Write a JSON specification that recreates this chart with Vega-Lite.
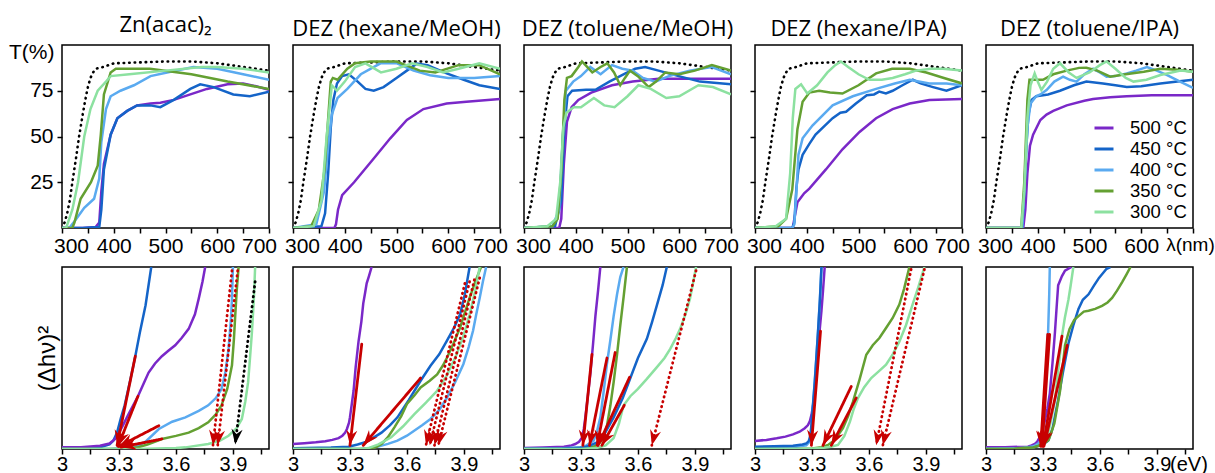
{
"$schema":"https://vega.github.io/schema/vega-lite/v6.json",
"padding":{"left":7,"top":13,"right":2,"bottom":0},
"datasets":{
"sub":[{"x":300,"y":0},{"x":305,"y":3},{"x":310,"y":8},{"x":315,"y":15},{"x":320,"y":25},{"x":327,"y":38},{"x":333,"y":50},{"x":340,"y":62},{"x":345,"y":70},{"x":350,"y":77},{"x":355,"y":82},{"x":360,"y":85},{"x":365,"y":87},{"x":380,"y":88},{"x":400,"y":90},{"x":450,"y":90.5},{"x":500,"y":91},{"x":550,"y":91},{"x":600,"y":90},{"x":650,"y":88},{"x":700,"y":86}],
"T":[
{"p":"a","s":500,"x":300,"y":0},{"p":"a","s":500,"x":340,"y":0},{"p":"a","s":500,"x":365,"y":0.5},{"p":"a","s":500,"x":372,"y":3},{"p":"a","s":500,"x":376,"y":20},{"p":"a","s":500,"x":381,"y":35},{"p":"a","s":500,"x":394,"y":51},{"p":"a","s":500,"x":407,"y":60},{"p":"a","s":500,"x":426,"y":64},{"p":"a","s":500,"x":445,"y":67},{"p":"a","s":500,"x":471,"y":68},{"p":"a","s":500,"x":490,"y":68.5},{"p":"a","s":500,"x":516,"y":70},{"p":"a","s":500,"x":548,"y":73},{"p":"a","s":500,"x":580,"y":76},{"p":"a","s":500,"x":620,"y":78.5},{"p":"a","s":500,"x":650,"y":79},{"p":"a","s":500,"x":675,"y":77.5},{"p":"a","s":500,"x":700,"y":75.5},
{"p":"a","s":450,"x":300,"y":0},{"p":"a","s":450,"x":340,"y":0},{"p":"a","s":450,"x":372,"y":0.5},{"p":"a","s":450,"x":376,"y":10},{"p":"a","s":450,"x":381,"y":32},{"p":"a","s":450,"x":394,"y":51},{"p":"a","s":450,"x":407,"y":60},{"p":"a","s":450,"x":426,"y":64},{"p":"a","s":450,"x":445,"y":67},{"p":"a","s":450,"x":471,"y":67},{"p":"a","s":450,"x":490,"y":66},{"p":"a","s":450,"x":516,"y":70},{"p":"a","s":450,"x":548,"y":76},{"p":"a","s":450,"x":567,"y":78.5},{"p":"a","s":450,"x":593,"y":77},{"p":"a","s":450,"x":631,"y":73},{"p":"a","s":450,"x":663,"y":72},{"p":"a","s":450,"x":700,"y":74.5},
{"p":"a","s":400,"x":300,"y":0},{"p":"a","s":400,"x":314,"y":0},{"p":"a","s":400,"x":325,"y":4},{"p":"a","s":400,"x":343,"y":11},{"p":"a","s":400,"x":362,"y":16},{"p":"a","s":400,"x":372,"y":27},{"p":"a","s":400,"x":376,"y":47},{"p":"a","s":400,"x":385,"y":65},{"p":"a","s":400,"x":394,"y":72},{"p":"a","s":400,"x":413,"y":75},{"p":"a","s":400,"x":439,"y":78},{"p":"a","s":400,"x":471,"y":83},{"p":"a","s":400,"x":503,"y":85},{"p":"a","s":400,"x":554,"y":88},{"p":"a","s":400,"x":600,"y":87},{"p":"a","s":400,"x":650,"y":84},{"p":"a","s":400,"x":700,"y":81},
{"p":"a","s":350,"x":300,"y":0},{"p":"a","s":350,"x":320,"y":0},{"p":"a","s":350,"x":324,"y":3},{"p":"a","s":350,"x":336,"y":16},{"p":"a","s":350,"x":356,"y":25},{"p":"a","s":350,"x":369,"y":34},{"p":"a","s":350,"x":375,"y":51},{"p":"a","s":350,"x":381,"y":73},{"p":"a","s":350,"x":394,"y":85},{"p":"a","s":350,"x":404,"y":87},{"p":"a","s":350,"x":470,"y":87},{"p":"a","s":350,"x":550,"y":84},{"p":"a","s":350,"x":620,"y":80},{"p":"a","s":350,"x":700,"y":76},
{"p":"a","s":300,"x":300,"y":0},{"p":"a","s":300,"x":308,"y":0},{"p":"a","s":300,"x":320,"y":10},{"p":"a","s":300,"x":331,"y":25},{"p":"a","s":300,"x":343,"y":50},{"p":"a","s":300,"x":355,"y":65},{"p":"a","s":300,"x":369,"y":75},{"p":"a","s":300,"x":385,"y":80},{"p":"a","s":300,"x":394,"y":83},{"p":"a","s":300,"x":430,"y":84},{"p":"a","s":300,"x":500,"y":86},{"p":"a","s":300,"x":570,"y":88},{"p":"a","s":300,"x":600,"y":88},{"p":"a","s":300,"x":650,"y":87},{"p":"a","s":300,"x":700,"y":85},
{"p":"b","s":500,"x":300,"y":0},{"p":"b","s":500,"x":380,"y":0},{"p":"b","s":500,"x":383,"y":2},{"p":"b","s":500,"x":387,"y":10},{"p":"b","s":500,"x":395,"y":18},{"p":"b","s":500,"x":418,"y":25},{"p":"b","s":500,"x":456,"y":38},{"p":"b","s":500,"x":488,"y":49},{"p":"b","s":500,"x":520,"y":59},{"p":"b","s":500,"x":552,"y":65},{"p":"b","s":500,"x":597,"y":68},{"p":"b","s":500,"x":635,"y":69},{"p":"b","s":500,"x":700,"y":70.5},
{"p":"b","s":450,"x":300,"y":0},{"p":"b","s":450,"x":355,"y":1},{"p":"b","s":450,"x":362,"y":8},{"p":"b","s":450,"x":368,"y":30},{"p":"b","s":450,"x":373,"y":55},{"p":"b","s":450,"x":378,"y":70},{"p":"b","s":450,"x":385,"y":79},{"p":"b","s":450,"x":395,"y":83},{"p":"b","s":450,"x":408,"y":84},{"p":"b","s":450,"x":425,"y":80},{"p":"b","s":450,"x":440,"y":76},{"p":"b","s":450,"x":456,"y":75},{"p":"b","s":450,"x":475,"y":77},{"p":"b","s":450,"x":500,"y":82},{"p":"b","s":450,"x":520,"y":86},{"p":"b","s":450,"x":539,"y":89.8},{"p":"b","s":450,"x":560,"y":89},{"p":"b","s":450,"x":580,"y":86.5},{"p":"b","s":450,"x":597,"y":84.5},{"p":"b","s":450,"x":630,"y":81},{"p":"b","s":450,"x":660,"y":78},{"p":"b","s":450,"x":700,"y":76},
{"p":"b","s":400,"x":300,"y":0},{"p":"b","s":400,"x":345,"y":2},{"p":"b","s":400,"x":360,"y":20},{"p":"b","s":400,"x":368,"y":45},{"p":"b","s":400,"x":375,"y":62},{"p":"b","s":400,"x":386,"y":71},{"p":"b","s":400,"x":405,"y":76},{"p":"b","s":400,"x":431,"y":84},{"p":"b","s":400,"x":469,"y":90},{"p":"b","s":400,"x":501,"y":90},{"p":"b","s":400,"x":533,"y":86},{"p":"b","s":400,"x":565,"y":83.5},{"p":"b","s":400,"x":600,"y":82},{"p":"b","s":400,"x":650,"y":82},{"p":"b","s":400,"x":700,"y":83},
{"p":"b","s":350,"x":300,"y":0},{"p":"b","s":350,"x":335,"y":1},{"p":"b","s":350,"x":350,"y":10},{"p":"b","s":350,"x":361,"y":32},{"p":"b","s":350,"x":368,"y":60},{"p":"b","s":350,"x":373,"y":80},{"p":"b","s":350,"x":377,"y":82},{"p":"b","s":350,"x":386,"y":81},{"p":"b","s":350,"x":405,"y":87},{"p":"b","s":350,"x":420,"y":90},{"p":"b","s":350,"x":450,"y":91},{"p":"b","s":350,"x":500,"y":91},{"p":"b","s":350,"x":545,"y":86},{"p":"b","s":350,"x":575,"y":85},{"p":"b","s":350,"x":620,"y":89},{"p":"b","s":350,"x":660,"y":89},{"p":"b","s":350,"x":700,"y":84},
{"p":"b","s":300,"x":300,"y":0},{"p":"b","s":300,"x":340,"y":1},{"p":"b","s":300,"x":355,"y":15},{"p":"b","s":300,"x":365,"y":50},{"p":"b","s":300,"x":375,"y":78},{"p":"b","s":300,"x":385,"y":75},{"p":"b","s":300,"x":400,"y":80},{"p":"b","s":300,"x":420,"y":88},{"p":"b","s":300,"x":440,"y":90},{"p":"b","s":300,"x":470,"y":85},{"p":"b","s":300,"x":500,"y":87},{"p":"b","s":300,"x":530,"y":90},{"p":"b","s":300,"x":560,"y":88},{"p":"b","s":300,"x":590,"y":85},{"p":"b","s":300,"x":620,"y":87},{"p":"b","s":300,"x":660,"y":90},{"p":"b","s":300,"x":700,"y":87},
{"p":"c","s":500,"x":300,"y":0},{"p":"c","s":500,"x":368,"y":0},{"p":"c","s":500,"x":372,"y":5},{"p":"c","s":500,"x":377,"y":35},{"p":"c","s":500,"x":383,"y":58},{"p":"c","s":500,"x":392,"y":66},{"p":"c","s":500,"x":405,"y":70},{"p":"c","s":500,"x":430,"y":74},{"p":"c","s":500,"x":470,"y":78},{"p":"c","s":500,"x":510,"y":80},{"p":"c","s":500,"x":560,"y":81.5},{"p":"c","s":500,"x":620,"y":81.5},{"p":"c","s":500,"x":700,"y":81.5},
{"p":"c","s":450,"x":300,"y":0},{"p":"c","s":450,"x":360,"y":1},{"p":"c","s":450,"x":372,"y":15},{"p":"c","s":450,"x":378,"y":55},{"p":"c","s":450,"x":384,"y":72},{"p":"c","s":450,"x":393,"y":75},{"p":"c","s":450,"x":420,"y":75.5},{"p":"c","s":450,"x":438,"y":75.5},{"p":"c","s":450,"x":465,"y":80},{"p":"c","s":450,"x":496,"y":84.5},{"p":"c","s":450,"x":515,"y":87},{"p":"c","s":450,"x":534,"y":88},{"p":"c","s":450,"x":560,"y":86},{"p":"c","s":450,"x":599,"y":83},{"p":"c","s":450,"x":640,"y":80},{"p":"c","s":450,"x":700,"y":78.5},
{"p":"c","s":400,"x":300,"y":0},{"p":"c","s":400,"x":355,"y":1},{"p":"c","s":400,"x":368,"y":10},{"p":"c","s":400,"x":375,"y":50},{"p":"c","s":400,"x":381,"y":75},{"p":"c","s":400,"x":395,"y":80},{"p":"c","s":400,"x":410,"y":83},{"p":"c","s":400,"x":428,"y":88},{"p":"c","s":400,"x":448,"y":84},{"p":"c","s":400,"x":470,"y":89},{"p":"c","s":400,"x":490,"y":87},{"p":"c","s":400,"x":510,"y":86},{"p":"c","s":400,"x":530,"y":82},{"p":"c","s":400,"x":554,"y":80},{"p":"c","s":400,"x":580,"y":83},{"p":"c","s":400,"x":620,"y":86},{"p":"c","s":400,"x":663,"y":88},{"p":"c","s":400,"x":700,"y":84},
{"p":"c","s":350,"x":300,"y":0},{"p":"c","s":350,"x":355,"y":1},{"p":"c","s":350,"x":365,"y":5},{"p":"c","s":350,"x":372,"y":30},{"p":"c","s":350,"x":378,"y":70},{"p":"c","s":350,"x":383,"y":82},{"p":"c","s":350,"x":392,"y":83},{"p":"c","s":350,"x":405,"y":88},{"p":"c","s":350,"x":412,"y":91},{"p":"c","s":350,"x":422,"y":88},{"p":"c","s":350,"x":432,"y":85},{"p":"c","s":350,"x":448,"y":88},{"p":"c","s":350,"x":461,"y":90},{"p":"c","s":350,"x":474,"y":85},{"p":"c","s":350,"x":486,"y":78},{"p":"c","s":350,"x":495,"y":82},{"p":"c","s":350,"x":505,"y":86},{"p":"c","s":350,"x":520,"y":83},{"p":"c","s":350,"x":541,"y":77},{"p":"c","s":350,"x":555,"y":80},{"p":"c","s":350,"x":573,"y":85},{"p":"c","s":350,"x":600,"y":84},{"p":"c","s":350,"x":630,"y":86},{"p":"c","s":350,"x":663,"y":89},{"p":"c","s":350,"x":700,"y":86},
{"p":"c","s":300,"x":300,"y":0},{"p":"c","s":300,"x":345,"y":1},{"p":"c","s":300,"x":362,"y":5},{"p":"c","s":300,"x":370,"y":25},{"p":"c","s":300,"x":376,"y":55},{"p":"c","s":300,"x":382,"y":63},{"p":"c","s":300,"x":396,"y":66},{"p":"c","s":300,"x":410,"y":66},{"p":"c","s":300,"x":435,"y":71},{"p":"c","s":300,"x":455,"y":67},{"p":"c","s":300,"x":475,"y":66},{"p":"c","s":300,"x":500,"y":72},{"p":"c","s":300,"x":521,"y":78},{"p":"c","s":300,"x":545,"y":76},{"p":"c","s":300,"x":575,"y":71},{"p":"c","s":300,"x":600,"y":72},{"p":"c","s":300,"x":637,"y":78},{"p":"c","s":300,"x":665,"y":77},{"p":"c","s":300,"x":700,"y":73},
{"p":"d","s":500,"x":300,"y":0},{"p":"d","s":500,"x":373,"y":0},{"p":"d","s":500,"x":376,"y":5},{"p":"d","s":500,"x":382,"y":14},{"p":"d","s":500,"x":395,"y":19},{"p":"d","s":500,"x":405,"y":21.5},{"p":"d","s":500,"x":437,"y":32},{"p":"d","s":500,"x":469,"y":43},{"p":"d","s":500,"x":502,"y":52.5},{"p":"d","s":500,"x":534,"y":60},{"p":"d","s":500,"x":566,"y":65},{"p":"d","s":500,"x":599,"y":68},{"p":"d","s":500,"x":637,"y":70},{"p":"d","s":500,"x":700,"y":70.5},
{"p":"d","s":450,"x":300,"y":0},{"p":"d","s":450,"x":372,"y":0},{"p":"d","s":450,"x":376,"y":3},{"p":"d","s":450,"x":380,"y":22},{"p":"d","s":450,"x":384,"y":32},{"p":"d","s":450,"x":392,"y":40},{"p":"d","s":450,"x":405,"y":46},{"p":"d","s":450,"x":417,"y":51},{"p":"d","s":450,"x":435,"y":56},{"p":"d","s":450,"x":450,"y":60},{"p":"d","s":450,"x":465,"y":63},{"p":"d","s":450,"x":476,"y":63.5},{"p":"d","s":450,"x":495,"y":68},{"p":"d","s":450,"x":516,"y":72.6},{"p":"d","s":450,"x":530,"y":73},{"p":"d","s":450,"x":540,"y":74.5},{"p":"d","s":450,"x":553,"y":73.5},{"p":"d","s":450,"x":566,"y":75},{"p":"d","s":450,"x":585,"y":78},{"p":"d","s":450,"x":605,"y":81},{"p":"d","s":450,"x":620,"y":79},{"p":"d","s":450,"x":644,"y":77},{"p":"d","s":450,"x":670,"y":75},{"p":"d","s":450,"x":700,"y":78},
{"p":"d","s":400,"x":300,"y":0},{"p":"d","s":400,"x":372,"y":0},{"p":"d","s":400,"x":376,"y":2},{"p":"d","s":400,"x":380,"y":20},{"p":"d","s":400,"x":384,"y":40},{"p":"d","s":400,"x":392,"y":49},{"p":"d","s":400,"x":411,"y":56},{"p":"d","s":400,"x":450,"y":67},{"p":"d","s":400,"x":489,"y":72},{"p":"d","s":400,"x":534,"y":76},{"p":"d","s":400,"x":570,"y":79},{"p":"d","s":400,"x":599,"y":81},{"p":"d","s":400,"x":637,"y":79},{"p":"d","s":400,"x":670,"y":79},{"p":"d","s":400,"x":700,"y":78},
{"p":"d","s":350,"x":300,"y":0},{"p":"d","s":350,"x":345,"y":1},{"p":"d","s":350,"x":360,"y":5},{"p":"d","s":350,"x":372,"y":21},{"p":"d","s":350,"x":382,"y":54},{"p":"d","s":350,"x":392,"y":69},{"p":"d","s":350,"x":405,"y":74},{"p":"d","s":350,"x":424,"y":75},{"p":"d","s":350,"x":445,"y":74},{"p":"d","s":350,"x":469,"y":73.5},{"p":"d","s":350,"x":500,"y":78},{"p":"d","s":350,"x":534,"y":84.5},{"p":"d","s":350,"x":565,"y":87},{"p":"d","s":350,"x":599,"y":87},{"p":"d","s":350,"x":631,"y":85},{"p":"d","s":350,"x":665,"y":82},{"p":"d","s":350,"x":700,"y":79},
{"p":"d","s":300,"x":300,"y":0},{"p":"d","s":300,"x":340,"y":1},{"p":"d","s":300,"x":360,"y":5},{"p":"d","s":300,"x":368,"y":30},{"p":"d","s":300,"x":373,"y":60},{"p":"d","s":300,"x":378,"y":76},{"p":"d","s":300,"x":389,"y":78.5},{"p":"d","s":300,"x":401,"y":73.5},{"p":"d","s":300,"x":420,"y":78},{"p":"d","s":300,"x":440,"y":85},{"p":"d","s":300,"x":455,"y":89},{"p":"d","s":300,"x":466,"y":91},{"p":"d","s":300,"x":480,"y":88},{"p":"d","s":300,"x":500,"y":84},{"p":"d","s":300,"x":521,"y":81},{"p":"d","s":300,"x":545,"y":81},{"p":"d","s":300,"x":566,"y":82},{"p":"d","s":300,"x":590,"y":84},{"p":"d","s":300,"x":611,"y":86},{"p":"d","s":300,"x":640,"y":87},{"p":"d","s":300,"x":663,"y":87},{"p":"d","s":300,"x":700,"y":86},
{"p":"e","s":500,"x":300,"y":0},{"p":"e","s":500,"x":372,"y":0},{"p":"e","s":500,"x":376,"y":10},{"p":"e","s":500,"x":380,"y":30},{"p":"e","s":500,"x":385,"y":45},{"p":"e","s":500,"x":391,"y":51},{"p":"e","s":500,"x":405,"y":59},{"p":"e","s":500,"x":417,"y":62},{"p":"e","s":500,"x":430,"y":64},{"p":"e","s":500,"x":456,"y":67},{"p":"e","s":500,"x":490,"y":69.5},{"p":"e","s":500,"x":507,"y":70.5},{"p":"e","s":500,"x":540,"y":71.5},{"p":"e","s":500,"x":572,"y":72},{"p":"e","s":500,"x":620,"y":72.5},{"p":"e","s":500,"x":660,"y":72.5},{"p":"e","s":500,"x":700,"y":72.5},
{"p":"e","s":450,"x":300,"y":0},{"p":"e","s":450,"x":370,"y":0},{"p":"e","s":450,"x":374,"y":20},{"p":"e","s":450,"x":378,"y":45},{"p":"e","s":450,"x":382,"y":62},{"p":"e","s":450,"x":388,"y":70},{"p":"e","s":450,"x":397,"y":72},{"p":"e","s":450,"x":420,"y":73},{"p":"e","s":450,"x":443,"y":75},{"p":"e","s":450,"x":470,"y":78},{"p":"e","s":450,"x":494,"y":80},{"p":"e","s":450,"x":526,"y":79},{"p":"e","s":450,"x":550,"y":78},{"p":"e","s":450,"x":572,"y":77},{"p":"e","s":450,"x":600,"y":77.5},{"p":"e","s":450,"x":637,"y":79},{"p":"e","s":450,"x":670,"y":80},{"p":"e","s":450,"x":700,"y":81},
{"p":"e","s":400,"x":300,"y":0},{"p":"e","s":400,"x":370,"y":0},{"p":"e","s":400,"x":375,"y":25},{"p":"e","s":400,"x":380,"y":55},{"p":"e","s":400,"x":386,"y":68},{"p":"e","s":400,"x":397,"y":72},{"p":"e","s":400,"x":405,"y":73},{"p":"e","s":400,"x":417,"y":75.4},{"p":"e","s":400,"x":432,"y":80},{"p":"e","s":400,"x":449,"y":82.7},{"p":"e","s":400,"x":462,"y":81},{"p":"e","s":400,"x":475,"y":80},{"p":"e","s":400,"x":490,"y":84},{"p":"e","s":400,"x":507,"y":87},{"p":"e","s":400,"x":520,"y":85},{"p":"e","s":400,"x":533,"y":82.7},{"p":"e","s":400,"x":550,"y":83},{"p":"e","s":400,"x":572,"y":84.5},{"p":"e","s":400,"x":590,"y":86},{"p":"e","s":400,"x":611,"y":88},{"p":"e","s":400,"x":630,"y":86},{"p":"e","s":400,"x":650,"y":83.6},{"p":"e","s":400,"x":675,"y":80},{"p":"e","s":400,"x":700,"y":76.6},
{"p":"e","s":350,"x":300,"y":0},{"p":"e","s":350,"x":368,"y":0},{"p":"e","s":350,"x":374,"y":25},{"p":"e","s":350,"x":380,"y":70},{"p":"e","s":350,"x":384,"y":81},{"p":"e","s":350,"x":395,"y":81},{"p":"e","s":350,"x":410,"y":81},{"p":"e","s":350,"x":430,"y":84},{"p":"e","s":350,"x":456,"y":86},{"p":"e","s":350,"x":480,"y":87.5},{"p":"e","s":350,"x":494,"y":87.6},{"p":"e","s":350,"x":515,"y":86},{"p":"e","s":350,"x":540,"y":82.7},{"p":"e","s":350,"x":570,"y":84},{"p":"e","s":350,"x":605,"y":85.4},{"p":"e","s":350,"x":637,"y":87},{"p":"e","s":350,"x":670,"y":86.5},{"p":"e","s":350,"x":700,"y":85.4},
{"p":"e","s":300,"x":300,"y":0},{"p":"e","s":300,"x":368,"y":0},{"p":"e","s":300,"x":374,"y":20},{"p":"e","s":300,"x":380,"y":60},{"p":"e","s":300,"x":386,"y":78},{"p":"e","s":300,"x":394,"y":84.5},{"p":"e","s":300,"x":400,"y":80},{"p":"e","s":300,"x":407,"y":75.4},{"p":"e","s":300,"x":418,"y":80},{"p":"e","s":300,"x":430,"y":87},{"p":"e","s":300,"x":443,"y":90},{"p":"e","s":300,"x":460,"y":85},{"p":"e","s":300,"x":475,"y":82},{"p":"e","s":300,"x":500,"y":85},{"p":"e","s":300,"x":520,"y":89},{"p":"e","s":300,"x":533,"y":91},{"p":"e","s":300,"x":550,"y":87},{"p":"e","s":300,"x":570,"y":82},{"p":"e","s":300,"x":585,"y":80},{"p":"e","s":300,"x":610,"y":81},{"p":"e","s":300,"x":637,"y":83.6},{"p":"e","s":300,"x":676,"y":86},{"p":"e","s":300,"x":700,"y":85.4}
],
"tauc":[
{"p":"f","s":450,"x":3.0,"y":0.3},{"p":"f","s":450,"x":3.15,"y":0.5},{"p":"f","s":450,"x":3.2,"y":1},{"p":"f","s":450,"x":3.25,"y":2.5},{"p":"f","s":450,"x":3.27,"y":4.5},{"p":"f","s":450,"x":3.29,"y":9},{"p":"f","s":450,"x":3.31,"y":17},{"p":"f","s":450,"x":3.33,"y":24},{"p":"f","s":450,"x":3.36,"y":38},{"p":"f","s":450,"x":3.386,"y":51},{"p":"f","s":450,"x":3.41,"y":64},{"p":"f","s":450,"x":3.44,"y":79},{"p":"f","s":450,"x":3.47,"y":100},
{"p":"f","s":500,"x":3.0,"y":0.9},{"p":"f","s":500,"x":3.1,"y":1},{"p":"f","s":500,"x":3.2,"y":1.8},{"p":"f","s":500,"x":3.25,"y":3},{"p":"f","s":500,"x":3.28,"y":5.5},{"p":"f","s":500,"x":3.3,"y":9},{"p":"f","s":500,"x":3.316,"y":12},{"p":"f","s":500,"x":3.35,"y":19},{"p":"f","s":500,"x":3.4,"y":29},{"p":"f","s":500,"x":3.43,"y":36},{"p":"f","s":500,"x":3.456,"y":42},{"p":"f","s":500,"x":3.49,"y":47},{"p":"f","s":500,"x":3.526,"y":51},{"p":"f","s":500,"x":3.56,"y":54},{"p":"f","s":500,"x":3.596,"y":57},{"p":"f","s":500,"x":3.63,"y":61},{"p":"f","s":500,"x":3.667,"y":66},{"p":"f","s":500,"x":3.7,"y":74},{"p":"f","s":500,"x":3.72,"y":82.6},{"p":"f","s":500,"x":3.74,"y":92},{"p":"f","s":500,"x":3.754,"y":100},
{"p":"f","s":400,"x":3.0,"y":0},{"p":"f","s":400,"x":3.25,"y":0},{"p":"f","s":400,"x":3.3,"y":0.3},{"p":"f","s":400,"x":3.386,"y":1},{"p":"f","s":400,"x":3.44,"y":4},{"p":"f","s":400,"x":3.51,"y":11},{"p":"f","s":400,"x":3.58,"y":15},{"p":"f","s":400,"x":3.65,"y":17.4},{"p":"f","s":400,"x":3.72,"y":21},{"p":"f","s":400,"x":3.77,"y":24},{"p":"f","s":400,"x":3.81,"y":28},{"p":"f","s":400,"x":3.84,"y":33},{"p":"f","s":400,"x":3.86,"y":42},{"p":"f","s":400,"x":3.877,"y":55},{"p":"f","s":400,"x":3.89,"y":72},{"p":"f","s":400,"x":3.895,"y":82.6},{"p":"f","s":400,"x":3.9,"y":100},
{"p":"f","s":350,"x":3.0,"y":0},{"p":"f","s":350,"x":3.3,"y":0},{"p":"f","s":350,"x":3.4,"y":1},{"p":"f","s":350,"x":3.45,"y":2.5},{"p":"f","s":350,"x":3.526,"y":5.5},{"p":"f","s":350,"x":3.6,"y":7.2},{"p":"f","s":350,"x":3.667,"y":9},{"p":"f","s":350,"x":3.72,"y":11.5},{"p":"f","s":350,"x":3.77,"y":14.7},{"p":"f","s":350,"x":3.81,"y":19},{"p":"f","s":350,"x":3.84,"y":24},{"p":"f","s":350,"x":3.87,"y":33},{"p":"f","s":350,"x":3.895,"y":46},{"p":"f","s":350,"x":3.905,"y":60},{"p":"f","s":350,"x":3.912,"y":73},{"p":"f","s":350,"x":3.92,"y":87},{"p":"f","s":350,"x":3.93,"y":100},
{"p":"f","s":300,"x":3.0,"y":0},{"p":"f","s":300,"x":3.4,"y":0},{"p":"f","s":300,"x":3.6,"y":0.5},{"p":"f","s":300,"x":3.65,"y":0.9},{"p":"f","s":300,"x":3.77,"y":2.75},{"p":"f","s":300,"x":3.83,"y":4.5},{"p":"f","s":300,"x":3.877,"y":7.3},{"p":"f","s":300,"x":3.92,"y":11.5},{"p":"f","s":300,"x":3.947,"y":16.5},{"p":"f","s":300,"x":3.965,"y":26},{"p":"f","s":300,"x":3.98,"y":36.7},{"p":"f","s":300,"x":3.99,"y":50},{"p":"f","s":300,"x":4.0,"y":64},{"p":"f","s":300,"x":4.01,"y":82},{"p":"f","s":300,"x":4.017,"y":100},
{"p":"g","s":500,"x":3.0,"y":2.7},{"p":"g","s":500,"x":3.06,"y":3.2},{"p":"g","s":500,"x":3.12,"y":3.7},{"p":"g","s":500,"x":3.17,"y":4.3},{"p":"g","s":500,"x":3.207,"y":5},{"p":"g","s":500,"x":3.24,"y":6},{"p":"g","s":500,"x":3.26,"y":7.3},{"p":"g","s":500,"x":3.275,"y":9},{"p":"g","s":500,"x":3.284,"y":11},{"p":"g","s":500,"x":3.295,"y":14.5},{"p":"g","s":500,"x":3.3,"y":17.5},{"p":"g","s":500,"x":3.31,"y":25},{"p":"g","s":500,"x":3.319,"y":32},{"p":"g","s":500,"x":3.33,"y":45},{"p":"g","s":500,"x":3.345,"y":59},{"p":"g","s":500,"x":3.36,"y":70},{"p":"g","s":500,"x":3.37,"y":80},{"p":"g","s":500,"x":3.38,"y":86},{"p":"g","s":500,"x":3.388,"y":91},{"p":"g","s":500,"x":3.4,"y":95},{"p":"g","s":500,"x":3.414,"y":100},
{"p":"g","s":450,"x":3.0,"y":0.4},{"p":"g","s":450,"x":3.2,"y":0.8},{"p":"g","s":450,"x":3.293,"y":1.3},{"p":"g","s":450,"x":3.34,"y":2.5},{"p":"g","s":450,"x":3.38,"y":3.7},{"p":"g","s":450,"x":3.42,"y":6},{"p":"g","s":450,"x":3.466,"y":9},{"p":"g","s":450,"x":3.51,"y":13},{"p":"g","s":450,"x":3.55,"y":17.4},{"p":"g","s":450,"x":3.61,"y":27},{"p":"g","s":450,"x":3.672,"y":37.5},{"p":"g","s":450,"x":3.724,"y":45.7},{"p":"g","s":450,"x":3.77,"y":52},{"p":"g","s":450,"x":3.81,"y":59.4},{"p":"g","s":450,"x":3.85,"y":67},{"p":"g","s":450,"x":3.88,"y":74},{"p":"g","s":450,"x":3.905,"y":85},{"p":"g","s":450,"x":3.93,"y":100},
{"p":"g","s":400,"x":3.0,"y":0},{"p":"g","s":400,"x":3.35,"y":0},{"p":"g","s":400,"x":3.4,"y":0.4},{"p":"g","s":400,"x":3.448,"y":1.3},{"p":"g","s":400,"x":3.5,"y":2.8},{"p":"g","s":400,"x":3.55,"y":4.6},{"p":"g","s":400,"x":3.6,"y":7.3},{"p":"g","s":400,"x":3.638,"y":10},{"p":"g","s":400,"x":3.68,"y":13},{"p":"g","s":400,"x":3.724,"y":16.5},{"p":"g","s":400,"x":3.77,"y":21.5},{"p":"g","s":400,"x":3.81,"y":28},{"p":"g","s":400,"x":3.855,"y":37},{"p":"g","s":400,"x":3.897,"y":46.6},{"p":"g","s":400,"x":3.925,"y":56},{"p":"g","s":400,"x":3.948,"y":65},{"p":"g","s":400,"x":3.965,"y":74},{"p":"g","s":400,"x":3.983,"y":83},{"p":"g","s":400,"x":4.0,"y":92},{"p":"g","s":400,"x":4.017,"y":100},
{"p":"g","s":350,"x":3.0,"y":0},{"p":"g","s":350,"x":3.38,"y":0},{"p":"g","s":350,"x":3.414,"y":0.3},{"p":"g","s":350,"x":3.44,"y":1.2},{"p":"g","s":350,"x":3.466,"y":2.7},{"p":"g","s":350,"x":3.5,"y":6.5},{"p":"g","s":350,"x":3.534,"y":11.9},{"p":"g","s":350,"x":3.57,"y":18},{"p":"g","s":350,"x":3.6,"y":24.7},{"p":"g","s":350,"x":3.64,"y":29.5},{"p":"g","s":350,"x":3.672,"y":33.8},{"p":"g","s":350,"x":3.72,"y":37.5},{"p":"g","s":350,"x":3.759,"y":41},{"p":"g","s":350,"x":3.79,"y":46},{"p":"g","s":350,"x":3.81,"y":50},{"p":"g","s":350,"x":3.845,"y":58},{"p":"g","s":350,"x":3.88,"y":66.7},{"p":"g","s":350,"x":3.905,"y":75},{"p":"g","s":350,"x":3.93,"y":83},{"p":"g","s":350,"x":3.96,"y":92},{"p":"g","s":350,"x":3.99,"y":100},
{"p":"g","s":300,"x":3.0,"y":0},{"p":"g","s":300,"x":3.36,"y":0},{"p":"g","s":300,"x":3.397,"y":0.5},{"p":"g","s":300,"x":3.45,"y":2.5},{"p":"g","s":300,"x":3.517,"y":6.4},{"p":"g","s":300,"x":3.58,"y":12.5},{"p":"g","s":300,"x":3.638,"y":19},{"p":"g","s":300,"x":3.7,"y":25.5},{"p":"g","s":300,"x":3.759,"y":32},{"p":"g","s":300,"x":3.81,"y":40.5},{"p":"g","s":300,"x":3.862,"y":52},{"p":"g","s":300,"x":3.9,"y":63},{"p":"g","s":300,"x":3.93,"y":74},{"p":"g","s":300,"x":3.96,"y":87},{"p":"g","s":300,"x":3.983,"y":100},
{"p":"h","s":500,"x":3.0,"y":0.5},{"p":"h","s":500,"x":3.1,"y":0.8},{"p":"h","s":500,"x":3.21,"y":1.3},{"p":"h","s":500,"x":3.25,"y":2},{"p":"h","s":500,"x":3.27,"y":2.75},{"p":"h","s":500,"x":3.29,"y":4},{"p":"h","s":500,"x":3.306,"y":6.4},{"p":"h","s":500,"x":3.315,"y":11},{"p":"h","s":500,"x":3.323,"y":17.4},{"p":"h","s":500,"x":3.335,"y":28},{"p":"h","s":500,"x":3.35,"y":42},{"p":"h","s":500,"x":3.363,"y":57},{"p":"h","s":500,"x":3.376,"y":73},{"p":"h","s":500,"x":3.39,"y":87},{"p":"h","s":500,"x":3.402,"y":100},
{"p":"h","s":400,"x":3.0,"y":0.2},{"p":"h","s":400,"x":3.2,"y":0.4},{"p":"h","s":400,"x":3.297,"y":0.8},{"p":"h","s":400,"x":3.33,"y":2},{"p":"h","s":400,"x":3.367,"y":4.6},{"p":"h","s":400,"x":3.385,"y":10},{"p":"h","s":400,"x":3.402,"y":17.4},{"p":"h","s":400,"x":3.42,"y":32},{"p":"h","s":400,"x":3.437,"y":47},{"p":"h","s":400,"x":3.455,"y":60},{"p":"h","s":400,"x":3.472,"y":73},{"p":"h","s":400,"x":3.49,"y":85},{"p":"h","s":400,"x":3.507,"y":94.5},{"p":"h","s":400,"x":3.524,"y":100},
{"p":"h","s":350,"x":3.0,"y":0},{"p":"h","s":350,"x":3.2,"y":0},{"p":"h","s":350,"x":3.33,"y":0.5},{"p":"h","s":350,"x":3.37,"y":1.5},{"p":"h","s":350,"x":3.402,"y":3.7},{"p":"h","s":350,"x":3.42,"y":7},{"p":"h","s":350,"x":3.437,"y":12.8},{"p":"h","s":350,"x":3.455,"y":24},{"p":"h","s":350,"x":3.472,"y":36.7},{"p":"h","s":350,"x":3.49,"y":52},{"p":"h","s":350,"x":3.507,"y":68},{"p":"h","s":350,"x":3.525,"y":84},{"p":"h","s":350,"x":3.542,"y":100},
{"p":"h","s":450,"x":3.0,"y":0.2},{"p":"h","s":450,"x":3.2,"y":0.3},{"p":"h","s":450,"x":3.315,"y":0.8},{"p":"h","s":450,"x":3.35,"y":2},{"p":"h","s":450,"x":3.385,"y":3.7},{"p":"h","s":450,"x":3.42,"y":7.5},{"p":"h","s":450,"x":3.472,"y":17.4},{"p":"h","s":450,"x":3.52,"y":28},{"p":"h","s":450,"x":3.56,"y":39},{"p":"h","s":450,"x":3.6,"y":50},{"p":"h","s":450,"x":3.647,"y":60.5},{"p":"h","s":450,"x":3.675,"y":70},{"p":"h","s":450,"x":3.7,"y":79},{"p":"h","s":450,"x":3.73,"y":90},{"p":"h","s":450,"x":3.752,"y":100},
{"p":"h","s":300,"x":3.0,"y":0},{"p":"h","s":300,"x":3.3,"y":0},{"p":"h","s":300,"x":3.38,"y":0.5},{"p":"h","s":300,"x":3.43,"y":2},{"p":"h","s":300,"x":3.472,"y":6},{"p":"h","s":300,"x":3.5,"y":14},{"p":"h","s":300,"x":3.524,"y":23.9},{"p":"h","s":300,"x":3.56,"y":29},{"p":"h","s":300,"x":3.6,"y":33},{"p":"h","s":300,"x":3.647,"y":38.5},{"p":"h","s":300,"x":3.7,"y":45},{"p":"h","s":300,"x":3.74,"y":50},{"p":"h","s":300,"x":3.77,"y":55},{"p":"h","s":300,"x":3.8,"y":61},{"p":"h","s":300,"x":3.822,"y":66},{"p":"h","s":300,"x":3.85,"y":74},{"p":"h","s":300,"x":3.874,"y":82.6},{"p":"h","s":300,"x":3.89,"y":91},{"p":"h","s":300,"x":3.906,"y":100},
{"p":"i","s":500,"x":3.0,"y":4.4},{"p":"i","s":500,"x":3.06,"y":5},{"p":"i","s":500,"x":3.114,"y":5.9},{"p":"i","s":500,"x":3.16,"y":6.8},{"p":"i","s":500,"x":3.2,"y":8},{"p":"i","s":500,"x":3.235,"y":9.5},{"p":"i","s":500,"x":3.262,"y":11.4},{"p":"i","s":500,"x":3.278,"y":13},{"p":"i","s":500,"x":3.288,"y":15},{"p":"i","s":500,"x":3.298,"y":19},{"p":"i","s":500,"x":3.306,"y":24},{"p":"i","s":500,"x":3.315,"y":33},{"p":"i","s":500,"x":3.323,"y":42.6},{"p":"i","s":500,"x":3.332,"y":54},{"p":"i","s":500,"x":3.34,"y":64.7},{"p":"i","s":500,"x":3.35,"y":76},{"p":"i","s":500,"x":3.358,"y":86.8},{"p":"i","s":500,"x":3.367,"y":100},
{"p":"i","s":400,"x":3.0,"y":0.6},{"p":"i","s":400,"x":3.2,"y":1},{"p":"i","s":400,"x":3.27,"y":2},{"p":"i","s":400,"x":3.285,"y":3.8},{"p":"i","s":400,"x":3.295,"y":9},{"p":"i","s":400,"x":3.303,"y":20},{"p":"i","s":400,"x":3.313,"y":35},{"p":"i","s":400,"x":3.323,"y":50},{"p":"i","s":400,"x":3.333,"y":66},{"p":"i","s":400,"x":3.342,"y":83},{"p":"i","s":400,"x":3.35,"y":100},
{"p":"i","s":450,"x":3.0,"y":1.3},{"p":"i","s":450,"x":3.1,"y":1.5},{"p":"i","s":450,"x":3.2,"y":1.8},{"p":"i","s":450,"x":3.25,"y":2.5},{"p":"i","s":450,"x":3.27,"y":3.1},{"p":"i","s":450,"x":3.282,"y":4.2},{"p":"i","s":450,"x":3.288,"y":5.9},{"p":"i","s":450,"x":3.293,"y":9},{"p":"i","s":450,"x":3.297,"y":13},{"p":"i","s":450,"x":3.305,"y":24},{"p":"i","s":450,"x":3.315,"y":37},{"p":"i","s":450,"x":3.323,"y":50},{"p":"i","s":450,"x":3.332,"y":64.7},{"p":"i","s":450,"x":3.342,"y":82},{"p":"i","s":450,"x":3.35,"y":100},
{"p":"i","s":350,"x":3.0,"y":0},{"p":"i","s":350,"x":3.2,"y":0},{"p":"i","s":350,"x":3.3,"y":0.3},{"p":"i","s":350,"x":3.35,"y":1},{"p":"i","s":350,"x":3.385,"y":2.2},{"p":"i","s":350,"x":3.42,"y":5},{"p":"i","s":350,"x":3.463,"y":11.4},{"p":"i","s":350,"x":3.49,"y":18},{"p":"i","s":350,"x":3.516,"y":26},{"p":"i","s":350,"x":3.55,"y":38},{"p":"i","s":350,"x":3.586,"y":51.8},{"p":"i","s":350,"x":3.62,"y":57},{"p":"i","s":350,"x":3.655,"y":61},{"p":"i","s":350,"x":3.69,"y":66.5},{"p":"i","s":350,"x":3.725,"y":72},{"p":"i","s":350,"x":3.76,"y":79.4},{"p":"i","s":350,"x":3.785,"y":88},{"p":"i","s":350,"x":3.813,"y":100},
{"p":"i","s":300,"x":3.0,"y":0},{"p":"i","s":300,"x":3.25,"y":0},{"p":"i","s":300,"x":3.35,"y":0.5},{"p":"i","s":300,"x":3.4,"y":1.2},{"p":"i","s":300,"x":3.437,"y":2.2},{"p":"i","s":300,"x":3.47,"y":7},{"p":"i","s":300,"x":3.5,"y":15},{"p":"i","s":300,"x":3.52,"y":22},{"p":"i","s":300,"x":3.542,"y":28},{"p":"i","s":300,"x":3.575,"y":34},{"p":"i","s":300,"x":3.612,"y":39},{"p":"i","s":300,"x":3.65,"y":42.5},{"p":"i","s":300,"x":3.69,"y":46.3},{"p":"i","s":300,"x":3.725,"y":52},{"p":"i","s":300,"x":3.76,"y":59},{"p":"i","s":300,"x":3.795,"y":68},{"p":"i","s":300,"x":3.83,"y":79.4},{"p":"i","s":300,"x":3.86,"y":89},{"p":"i","s":300,"x":3.892,"y":100},
{"p":"j","s":500,"x":3.0,"y":0.9},{"p":"j","s":500,"x":3.1,"y":1},{"p":"j","s":500,"x":3.221,"y":1.3},{"p":"j","s":500,"x":3.24,"y":2},{"p":"j","s":500,"x":3.257,"y":2.8},{"p":"j","s":500,"x":3.27,"y":4},{"p":"j","s":500,"x":3.283,"y":6.5},{"p":"j","s":500,"x":3.297,"y":10},{"p":"j","s":500,"x":3.31,"y":15.7},{"p":"j","s":500,"x":3.323,"y":22},{"p":"j","s":500,"x":3.336,"y":30.5},{"p":"j","s":500,"x":3.35,"y":47},{"p":"j","s":500,"x":3.363,"y":64},{"p":"j","s":500,"x":3.372,"y":78},{"p":"j","s":500,"x":3.38,"y":90},{"p":"j","s":500,"x":3.4,"y":95},{"p":"j","s":500,"x":3.416,"y":98},{"p":"j","s":500,"x":3.45,"y":100},
{"p":"j","s":400,"x":3.0,"y":0.2},{"p":"j","s":400,"x":3.1,"y":0.3},{"p":"j","s":400,"x":3.2,"y":0.5},{"p":"j","s":400,"x":3.25,"y":1.5},{"p":"j","s":400,"x":3.275,"y":3},{"p":"j","s":400,"x":3.292,"y":4.6},{"p":"j","s":400,"x":3.3,"y":10},{"p":"j","s":400,"x":3.31,"y":25},{"p":"j","s":400,"x":3.318,"y":45},{"p":"j","s":400,"x":3.327,"y":64},{"p":"j","s":400,"x":3.333,"y":85},{"p":"j","s":400,"x":3.336,"y":100},
{"p":"j","s":300,"x":3.0,"y":0},{"p":"j","s":300,"x":3.15,"y":0.3},{"p":"j","s":300,"x":3.25,"y":1},{"p":"j","s":300,"x":3.29,"y":2.5},{"p":"j","s":300,"x":3.31,"y":4.6},{"p":"j","s":300,"x":3.33,"y":10},{"p":"j","s":300,"x":3.345,"y":17},{"p":"j","s":300,"x":3.363,"y":27},{"p":"j","s":300,"x":3.38,"y":43},{"p":"j","s":300,"x":3.4,"y":62},{"p":"j","s":300,"x":3.415,"y":72},{"p":"j","s":300,"x":3.434,"y":82},{"p":"j","s":300,"x":3.446,"y":90},{"p":"j","s":300,"x":3.46,"y":100},
{"p":"j","s":450,"x":3.0,"y":0},{"p":"j","s":450,"x":3.15,"y":0.2},{"p":"j","s":450,"x":3.25,"y":0.8},{"p":"j","s":450,"x":3.3,"y":2.5},{"p":"j","s":450,"x":3.327,"y":4.6},{"p":"j","s":450,"x":3.35,"y":11},{"p":"j","s":450,"x":3.38,"y":27},{"p":"j","s":450,"x":3.405,"y":42},{"p":"j","s":450,"x":3.434,"y":58},{"p":"j","s":450,"x":3.46,"y":68},{"p":"j","s":450,"x":3.487,"y":77},{"p":"j","s":450,"x":3.51,"y":82},{"p":"j","s":450,"x":3.54,"y":85},{"p":"j","s":450,"x":3.57,"y":90},{"p":"j","s":450,"x":3.595,"y":94},{"p":"j","s":450,"x":3.611,"y":96},{"p":"j","s":450,"x":3.635,"y":99},{"p":"j","s":450,"x":3.655,"y":100},
{"p":"j","s":350,"x":3.0,"y":0},{"p":"j","s":350,"x":3.15,"y":0.2},{"p":"j","s":350,"x":3.25,"y":0.8},{"p":"j","s":350,"x":3.3,"y":2.5},{"p":"j","s":350,"x":3.33,"y":5},{"p":"j","s":350,"x":3.36,"y":14},{"p":"j","s":350,"x":3.39,"y":32},{"p":"j","s":350,"x":3.416,"y":57},{"p":"j","s":350,"x":3.44,"y":66},{"p":"j","s":350,"x":3.465,"y":71},{"p":"j","s":350,"x":3.487,"y":73},{"p":"j","s":350,"x":3.515,"y":75.5},{"p":"j","s":350,"x":3.54,"y":76},{"p":"j","s":350,"x":3.575,"y":77},{"p":"j","s":350,"x":3.611,"y":78.7},{"p":"j","s":350,"x":3.64,"y":80.5},{"p":"j","s":350,"x":3.664,"y":83},{"p":"j","s":350,"x":3.69,"y":87},{"p":"j","s":350,"x":3.717,"y":91.7},{"p":"j","s":350,"x":3.74,"y":96},{"p":"j","s":350,"x":3.761,"y":100}
],
"arr":[
{"p":"f","c":"red","d":"solid","x":3.386,"y":51,"x2":3.29,"y2":2},
{"p":"f","c":"red","d":"solid","x":3.4,"y":29,"x2":3.295,"y2":1.5},
{"p":"f","c":"red","d":"solid","x":3.51,"y":12.8,"x2":3.3,"y2":1.5},
{"p":"f","c":"red","d":"solid","x":3.526,"y":5.5,"x2":3.31,"y2":1},
{"p":"f","c":"red","d":"dotted","x":3.895,"y":98,"x2":3.795,"y2":2},
{"p":"f","c":"red","d":"dotted","x":3.925,"y":98,"x2":3.82,"y2":2},
{"p":"f","c":"black","d":"dotted","x":4.017,"y":92,"x2":3.912,"y2":2.5},
{"p":"g","c":"red","d":"solid","x":3.362,"y":57.6,"x2":3.3,"y2":2},
{"p":"g","c":"red","d":"solid","x":3.672,"y":39,"x2":3.37,"y2":2},
{"p":"g","c":"red","d":"dotted","x":3.905,"y":91,"x2":3.7,"y2":2},
{"p":"g","c":"red","d":"dotted","x":3.93,"y":92,"x2":3.72,"y2":2},
{"p":"g","c":"red","d":"dotted","x":3.955,"y":93,"x2":3.745,"y2":2},
{"p":"g","c":"red","d":"dotted","x":3.983,"y":94,"x2":3.765,"y2":2},
{"p":"h","c":"red","d":"solid","x":3.358,"y":52,"x2":3.31,"y2":2},
{"p":"h","c":"red","d":"solid","x":3.437,"y":50,"x2":3.345,"y2":2},
{"p":"h","c":"red","d":"solid","x":3.48,"y":53,"x2":3.385,"y2":2},
{"p":"h","c":"red","d":"solid","x":3.556,"y":39.4,"x2":3.39,"y2":2},
{"p":"h","c":"red","d":"solid","x":3.528,"y":24,"x2":3.41,"y2":2},
{"p":"h","c":"red","d":"dotted","x":3.906,"y":98,"x2":3.673,"y2":2},
{"p":"i","c":"red","d":"solid","x":3.345,"y":64.7,"x2":3.297,"y2":2},
{"p":"i","c":"red","d":"solid","x":3.507,"y":34.4,"x2":3.358,"y2":2},
{"p":"i","c":"red","d":"solid","x":3.533,"y":28,"x2":3.402,"y2":2},
{"p":"i","c":"red","d":"dotted","x":3.822,"y":98.7,"x2":3.638,"y2":2},
{"p":"i","c":"red","d":"dotted","x":3.892,"y":98.7,"x2":3.673,"y2":2},
{"p":"j","c":"red","d":"solid","x":3.325,"y":63,"x2":3.288,"y2":1.5},
{"p":"j","c":"red","d":"solid","x":3.335,"y":63,"x2":3.295,"y2":1.5},
{"p":"j","c":"red","d":"solid","x":3.4,"y":62,"x2":3.3,"y2":1.5},
{"p":"j","c":"red","d":"solid","x":3.428,"y":57,"x2":3.305,"y2":1.5}
]
},
"columns":5,
"spacing":{"row":39,"column":24},
"bounds":"flush",
"resolve":{"scale":{"x":"independent","y":"independent","color":"independent","stroke":"independent","fill":"independent","strokeDash":"independent"},"axis":{"x":"independent","y":"independent"},"legend":{"color":"independent"}},
"concat":[
{"width":207,"height":183,"title":"Zn(acac)₂",
 "encoding":{"x":{"field":"x","type":"quantitative","scale":{"domain":[300,700],"nice":false,"zero":false},"axis":{"title":null,"values":[300,350,400,450,500,550,600,650,700],"labelExpr":"datum.value % 100 === 0 ? datum.label : ''","labelFlush":false,"labelOffset":{"condition":[{"test":"datum.value === 300","value":9},{"test":"datum.value === 700","value":-10}],"value":0}}},
  "y":{"field":"y","type":"quantitative","scale":{"domain":[0,100],"nice":false},"axis":{"values":[25,50,75],"title":"T(%)","titleAngle":0,"titleAlign":"right","titleBaseline":"middle","titleX":-8,"titleY":7,"titleFontSize":21,"titleFontWeight":"normal","titleFont":"Liberation Sans","labelPadding":4}}},
 "layer":[
  {"data":{"name":"sub"},"mark":{"type":"line","color":"#000","strokeWidth":2.6,"strokeDash":[0.5,5],"strokeCap":"round","clip":true}},
  {"data":{"name":"T"},"transform":[{"filter":"datum.p === 'a'"}],"mark":{"type":"line","strokeWidth":2.5,"clip":true},"encoding":{"color":{"field":"s","type":"nominal","scale":{"domain":[500,450,400,350,300],"range":["#7A28C8","#1464C8","#5AAAF0","#64A032","#8CE1A0"]},"legend":null}}},
  {"data":{"values":[{"t":"(a)"}]},"mark":{"type":"text","align":"left","baseline":"top","fontSize":21,"font":"Liberation Sans","color":"#000"},"encoding":{"x":{"datum":306},"y":{"datum":98},"text":{"field":"t"}}}
 ]},
{"width":207,"height":183,"title":"DEZ (hexane/MeOH)",
 "encoding":{"x":{"field":"x","type":"quantitative","scale":{"domain":[300,700],"nice":false,"zero":false},"axis":{"title":null,"values":[300,350,400,450,500,550,600,650,700],"labelExpr":"datum.value % 100 === 0 ? datum.label : ''","labelFlush":false,"labelOffset":{"condition":[{"test":"datum.value === 300","value":9},{"test":"datum.value === 700","value":-10}],"value":0}}},
  "y":{"field":"y","type":"quantitative","scale":{"domain":[0,100],"nice":false},"axis":{"values":[25,50,75],"title":null,"labels":false}}},
 "layer":[
  {"data":{"name":"sub"},"mark":{"type":"line","color":"#000","strokeWidth":2.6,"strokeDash":[0.5,5],"strokeCap":"round","clip":true}},
  {"data":{"name":"T"},"transform":[{"filter":"datum.p === 'b'"}],"mark":{"type":"line","strokeWidth":2.5,"clip":true},"encoding":{"color":{"field":"s","type":"nominal","scale":{"domain":[500,450,400,350,300],"range":["#7A28C8","#1464C8","#5AAAF0","#64A032","#8CE1A0"]},"legend":null}}},
  {"data":{"values":[{"t":"(b)"}]},"mark":{"type":"text","align":"left","baseline":"top","fontSize":21,"font":"Liberation Sans","color":"#000"},"encoding":{"x":{"datum":306},"y":{"datum":98},"text":{"field":"t"}}}
 ]},
{"width":207,"height":183,"title":"DEZ (toluene/MeOH)",
 "encoding":{"x":{"field":"x","type":"quantitative","scale":{"domain":[300,700],"nice":false,"zero":false},"axis":{"title":null,"values":[300,350,400,450,500,550,600,650,700],"labelExpr":"datum.value % 100 === 0 ? datum.label : ''","labelFlush":false,"labelOffset":{"condition":[{"test":"datum.value === 300","value":9},{"test":"datum.value === 700","value":-10}],"value":0}}},
  "y":{"field":"y","type":"quantitative","scale":{"domain":[0,100],"nice":false},"axis":{"values":[25,50,75],"title":null,"labels":false}}},
 "layer":[
  {"data":{"name":"sub"},"mark":{"type":"line","color":"#000","strokeWidth":2.6,"strokeDash":[0.5,5],"strokeCap":"round","clip":true}},
  {"data":{"name":"T"},"transform":[{"filter":"datum.p === 'c'"}],"mark":{"type":"line","strokeWidth":2.5,"clip":true},"encoding":{"color":{"field":"s","type":"nominal","scale":{"domain":[500,450,400,350,300],"range":["#7A28C8","#1464C8","#5AAAF0","#64A032","#8CE1A0"]},"legend":null}}},
  {"data":{"values":[{"t":"(c)"}]},"mark":{"type":"text","align":"left","baseline":"top","fontSize":21,"font":"Liberation Sans","color":"#000"},"encoding":{"x":{"datum":306},"y":{"datum":98},"text":{"field":"t"}}}
 ]},
{"width":207,"height":183,"title":"DEZ (hexane/IPA)",
 "encoding":{"x":{"field":"x","type":"quantitative","scale":{"domain":[300,700],"nice":false,"zero":false},"axis":{"title":null,"values":[300,350,400,450,500,550,600,650,700],"labelExpr":"datum.value % 100 === 0 ? datum.label : ''","labelFlush":false,"labelOffset":{"condition":[{"test":"datum.value === 300","value":9},{"test":"datum.value === 700","value":-10}],"value":0}}},
  "y":{"field":"y","type":"quantitative","scale":{"domain":[0,100],"nice":false},"axis":{"values":[25,50,75],"title":null,"labels":false}}},
 "layer":[
  {"data":{"name":"sub"},"mark":{"type":"line","color":"#000","strokeWidth":2.6,"strokeDash":[0.5,5],"strokeCap":"round","clip":true}},
  {"data":{"name":"T"},"transform":[{"filter":"datum.p === 'd'"}],"mark":{"type":"line","strokeWidth":2.5,"clip":true},"encoding":{"color":{"field":"s","type":"nominal","scale":{"domain":[500,450,400,350,300],"range":["#7A28C8","#1464C8","#5AAAF0","#64A032","#8CE1A0"]},"legend":null}}},
  {"data":{"values":[{"t":"(d)"}]},"mark":{"type":"text","align":"left","baseline":"top","fontSize":21,"font":"Liberation Sans","color":"#000"},"encoding":{"x":{"datum":306},"y":{"datum":98},"text":{"field":"t"}}}
 ]},
{"width":207,"height":183,"title":"DEZ (toluene/IPA)",
 "encoding":{"x":{"field":"x","type":"quantitative","scale":{"domain":[300,700],"nice":false,"zero":false},"axis":{"title":null,"values":[300,350,400,450,500,550,600,650,700],"labelExpr":"datum.value === 700 ? 'λ(nm)' : (datum.value % 100 === 0 ? datum.label : '')","labelFlush":false,"labelOffset":{"condition":[{"test":"datum.value === 300","value":9},{"test":"datum.value === 700","value":-3}],"value":0},"labelFontSize":{"condition":{"test":"datum.value === 700","value":19},"value":21}}},
  "y":{"field":"y","type":"quantitative","scale":{"domain":[0,100],"nice":false},"axis":{"values":[25,50,75],"title":null,"labels":false}}},
 "layer":[
  {"data":{"name":"sub"},"mark":{"type":"line","color":"#000","strokeWidth":2.6,"strokeDash":[0.5,5],"strokeCap":"round","clip":true}},
  {"data":{"name":"T"},"transform":[{"filter":"datum.p === 'e'"}],"mark":{"type":"line","strokeWidth":2.5,"clip":true},"encoding":{"color":{"field":"s","type":"nominal","scale":{"domain":[500,450,400,350,300],"range":["#7A28C8","#1464C8","#5AAAF0","#64A032","#8CE1A0"]},"legend":{"orient":"bottom-right","title":null,"labelExpr":"datum.label + ' °C'","symbolType":"stroke","symbolSize":361,"symbolStrokeWidth":3,"labelFontSize":18.5,"labelFont":"Liberation Sans","labelColor":"#000","labelOffset":15,"rowPadding":0,"offset":6,"padding":0}}}},
  {"data":{"values":[{"t":"(e)"}]},"mark":{"type":"text","align":"left","baseline":"top","fontSize":21,"font":"Liberation Sans","color":"#000"},"encoding":{"x":{"datum":306},"y":{"datum":98},"text":{"field":"t"}}}
 ]},
{"width":207,"height":182,
 "encoding":{"x":{"field":"x","type":"quantitative","scale":{"domain":[3,4.09],"nice":false,"zero":false},"axis":{"title":null,"values":[3,3.15,3.3,3.45,3.6,3.75,3.9,4.05],"format":".2~f","labelExpr":"(datum.label === '3' || datum.label === '3.3' || datum.label === '3.6' || datum.label === '3.9') ? datum.label : ''","labelFlush":false,"labelPadding":0,"labelFontSize":20}},
  "y":{"field":"y","type":"quantitative","scale":{"domain":[0,100],"nice":false},"axis":{"title":"(Δhν)²","ticks":false,"labels":false,"titleFontSize":24,"titleFontWeight":"normal","titleFont":"Liberation Sans","titlePadding":3}}},
 "layer":[
  {"data":{"name":"tauc"},"transform":[{"filter":"datum.p === 'f'"}],"mark":{"type":"line","strokeWidth":2.5,"clip":true},"encoding":{"color":{"field":"s","type":"nominal","scale":{"domain":[500,450,400,350,300],"range":["#7A28C8","#1464C8","#5AAAF0","#64A032","#8CE1A0"]},"legend":null}}},
  {"data":{"name":"arr"},"transform":[{"filter":"datum.p === 'f'"}],"mark":{"type":"rule","strokeWidth":2.8,"strokeCap":"round"},"encoding":{"x2":{"field":"x2"},"y2":{"field":"y2"},"stroke":{"field":"c","type":"nominal","scale":{"domain":["red","black"],"range":["#C80000","#000000"]},"legend":null},"strokeDash":{"field":"d","type":"nominal","scale":{"domain":["solid","dotted"],"range":[[1,0],[0.5,4.5]]},"legend":null}}},
  {"data":{"name":"arr"},"transform":[{"filter":"datum.p === 'f'"},{"calculate":"atan2(-(datum.x2 - datum.x) * 189.9, (datum.y - datum.y2) * 1.82) * 180 / PI","as":"ang"}],"mark":{"type":"point","shape":"M0,0L-0.8,-2.2L0,-1.5L0.8,-2.2Z","filled":true,"size":196,"opacity":1},"encoding":{"x":{"field":"x2","type":"quantitative","title":null},"y":{"field":"y2","type":"quantitative","title":null},"angle":{"field":"ang","type":"quantitative","scale":null},"fill":{"field":"c","type":"nominal","scale":{"domain":["red","black"],"range":["#C80000","#000000"]},"legend":null}}},
  {"data":{"values":[{"t":"(f)"}]},"mark":{"type":"text","align":"left","baseline":"top","fontSize":21,"font":"Liberation Sans","color":"#000"},"encoding":{"x":{"datum":3.018},"y":{"datum":99},"text":{"field":"t"}}}
 ]},
{"width":207,"height":182,
 "encoding":{"x":{"field":"x","type":"quantitative","scale":{"domain":[3,4.09],"nice":false,"zero":false},"axis":{"title":null,"values":[3,3.15,3.3,3.45,3.6,3.75,3.9,4.05],"format":".2~f","labelExpr":"(datum.label === '3' || datum.label === '3.3' || datum.label === '3.6' || datum.label === '3.9') ? datum.label : ''","labelFlush":false,"labelPadding":0,"labelFontSize":20}},
  "y":{"field":"y","type":"quantitative","scale":{"domain":[0,100],"nice":false},"axis":null}},
 "layer":[
  {"data":{"name":"tauc"},"transform":[{"filter":"datum.p === 'g'"}],"mark":{"type":"line","strokeWidth":2.5,"clip":true},"encoding":{"color":{"field":"s","type":"nominal","scale":{"domain":[500,450,400,350,300],"range":["#7A28C8","#1464C8","#5AAAF0","#64A032","#8CE1A0"]},"legend":null}}},
  {"data":{"name":"arr"},"transform":[{"filter":"datum.p === 'g'"}],"mark":{"type":"rule","strokeWidth":2.8,"strokeCap":"round"},"encoding":{"x2":{"field":"x2"},"y2":{"field":"y2"},"stroke":{"field":"c","type":"nominal","scale":{"domain":["red","black"],"range":["#C80000","#000000"]},"legend":null},"strokeDash":{"field":"d","type":"nominal","scale":{"domain":["solid","dotted"],"range":[[1,0],[0.5,4.5]]},"legend":null}}},
  {"data":{"name":"arr"},"transform":[{"filter":"datum.p === 'g'"},{"calculate":"atan2(-(datum.x2 - datum.x) * 189.9, (datum.y - datum.y2) * 1.82) * 180 / PI","as":"ang"}],"mark":{"type":"point","shape":"M0,0L-0.8,-2.2L0,-1.5L0.8,-2.2Z","filled":true,"size":196,"opacity":1},"encoding":{"x":{"field":"x2","type":"quantitative","title":null},"y":{"field":"y2","type":"quantitative","title":null},"angle":{"field":"ang","type":"quantitative","scale":null},"fill":{"field":"c","type":"nominal","scale":{"domain":["red","black"],"range":["#C80000","#000000"]},"legend":null}}},
  {"data":{"values":[{"t":"(g)"}]},"mark":{"type":"text","align":"left","baseline":"top","fontSize":21,"font":"Liberation Sans","color":"#000"},"encoding":{"x":{"datum":3.018},"y":{"datum":99},"text":{"field":"t"}}}
 ]},
{"width":207,"height":182,
 "encoding":{"x":{"field":"x","type":"quantitative","scale":{"domain":[3,4.09],"nice":false,"zero":false},"axis":{"title":null,"values":[3,3.15,3.3,3.45,3.6,3.75,3.9,4.05],"format":".2~f","labelExpr":"(datum.label === '3' || datum.label === '3.3' || datum.label === '3.6' || datum.label === '3.9') ? datum.label : ''","labelFlush":false,"labelPadding":0,"labelFontSize":20}},
  "y":{"field":"y","type":"quantitative","scale":{"domain":[0,100],"nice":false},"axis":null}},
 "layer":[
  {"data":{"name":"tauc"},"transform":[{"filter":"datum.p === 'h'"}],"mark":{"type":"line","strokeWidth":2.5,"clip":true},"encoding":{"color":{"field":"s","type":"nominal","scale":{"domain":[500,450,400,350,300],"range":["#7A28C8","#1464C8","#5AAAF0","#64A032","#8CE1A0"]},"legend":null}}},
  {"data":{"name":"arr"},"transform":[{"filter":"datum.p === 'h'"}],"mark":{"type":"rule","strokeWidth":2.8,"strokeCap":"round"},"encoding":{"x2":{"field":"x2"},"y2":{"field":"y2"},"stroke":{"field":"c","type":"nominal","scale":{"domain":["red","black"],"range":["#C80000","#000000"]},"legend":null},"strokeDash":{"field":"d","type":"nominal","scale":{"domain":["solid","dotted"],"range":[[1,0],[0.5,4.5]]},"legend":null}}},
  {"data":{"name":"arr"},"transform":[{"filter":"datum.p === 'h'"},{"calculate":"atan2(-(datum.x2 - datum.x) * 189.9, (datum.y - datum.y2) * 1.82) * 180 / PI","as":"ang"}],"mark":{"type":"point","shape":"M0,0L-0.8,-2.2L0,-1.5L0.8,-2.2Z","filled":true,"size":196,"opacity":1},"encoding":{"x":{"field":"x2","type":"quantitative","title":null},"y":{"field":"y2","type":"quantitative","title":null},"angle":{"field":"ang","type":"quantitative","scale":null},"fill":{"field":"c","type":"nominal","scale":{"domain":["red","black"],"range":["#C80000","#000000"]},"legend":null}}},
  {"data":{"values":[{"t":"(h)"}]},"mark":{"type":"text","align":"left","baseline":"top","fontSize":21,"font":"Liberation Sans","color":"#000"},"encoding":{"x":{"datum":3.018},"y":{"datum":99},"text":{"field":"t"}}}
 ]},
{"width":207,"height":182,
 "encoding":{"x":{"field":"x","type":"quantitative","scale":{"domain":[3,4.09],"nice":false,"zero":false},"axis":{"title":null,"values":[3,3.15,3.3,3.45,3.6,3.75,3.9,4.05],"format":".2~f","labelExpr":"(datum.label === '3' || datum.label === '3.3' || datum.label === '3.6' || datum.label === '3.9') ? datum.label : ''","labelFlush":false,"labelPadding":0,"labelFontSize":20}},
  "y":{"field":"y","type":"quantitative","scale":{"domain":[0,100],"nice":false},"axis":null}},
 "layer":[
  {"data":{"name":"tauc"},"transform":[{"filter":"datum.p === 'i'"}],"mark":{"type":"line","strokeWidth":2.5,"clip":true},"encoding":{"color":{"field":"s","type":"nominal","scale":{"domain":[500,450,400,350,300],"range":["#7A28C8","#1464C8","#5AAAF0","#64A032","#8CE1A0"]},"legend":null}}},
  {"data":{"name":"arr"},"transform":[{"filter":"datum.p === 'i'"}],"mark":{"type":"rule","strokeWidth":2.8,"strokeCap":"round"},"encoding":{"x2":{"field":"x2"},"y2":{"field":"y2"},"stroke":{"field":"c","type":"nominal","scale":{"domain":["red","black"],"range":["#C80000","#000000"]},"legend":null},"strokeDash":{"field":"d","type":"nominal","scale":{"domain":["solid","dotted"],"range":[[1,0],[0.5,4.5]]},"legend":null}}},
  {"data":{"name":"arr"},"transform":[{"filter":"datum.p === 'i'"},{"calculate":"atan2(-(datum.x2 - datum.x) * 189.9, (datum.y - datum.y2) * 1.82) * 180 / PI","as":"ang"}],"mark":{"type":"point","shape":"M0,0L-0.8,-2.2L0,-1.5L0.8,-2.2Z","filled":true,"size":196,"opacity":1},"encoding":{"x":{"field":"x2","type":"quantitative","title":null},"y":{"field":"y2","type":"quantitative","title":null},"angle":{"field":"ang","type":"quantitative","scale":null},"fill":{"field":"c","type":"nominal","scale":{"domain":["red","black"],"range":["#C80000","#000000"]},"legend":null}}},
  {"data":{"values":[{"t":"(i)"}]},"mark":{"type":"text","align":"left","baseline":"top","fontSize":21,"font":"Liberation Sans","color":"#000"},"encoding":{"x":{"datum":3.018},"y":{"datum":99},"text":{"field":"t"}}}
 ]},
{"width":207,"height":182,
 "encoding":{"x":{"field":"x","type":"quantitative","scale":{"domain":[3,4.09],"nice":false,"zero":false},"axis":{"title":null,"values":[3,3.15,3.3,3.45,3.6,3.75,3.9,4.05],"format":".2~f","labelExpr":"datum.value > 4 ? '(eV)' : ((datum.label === '3' || datum.label === '3.3' || datum.label === '3.6' || datum.label === '3.9') ? datum.label : '')","labelFlush":false,"labelPadding":0,"labelFontSize":20,"labelOffset":{"condition":{"test":"datum.value > 4","value":3},"value":0}}},
  "y":{"field":"y","type":"quantitative","scale":{"domain":[0,100],"nice":false},"axis":null}},
 "layer":[
  {"data":{"name":"tauc"},"transform":[{"filter":"datum.p === 'j'"}],"mark":{"type":"line","strokeWidth":2.5,"clip":true},"encoding":{"color":{"field":"s","type":"nominal","scale":{"domain":[500,450,400,350,300],"range":["#7A28C8","#1464C8","#5AAAF0","#64A032","#8CE1A0"]},"legend":null}}},
  {"data":{"name":"arr"},"transform":[{"filter":"datum.p === 'j'"}],"mark":{"type":"rule","strokeWidth":2.8,"strokeCap":"round"},"encoding":{"x2":{"field":"x2"},"y2":{"field":"y2"},"stroke":{"field":"c","type":"nominal","scale":{"domain":["red","black"],"range":["#C80000","#000000"]},"legend":null},"strokeDash":{"field":"d","type":"nominal","scale":{"domain":["solid","dotted"],"range":[[1,0],[0.5,4.5]]},"legend":null}}},
  {"data":{"name":"arr"},"transform":[{"filter":"datum.p === 'j'"},{"calculate":"atan2(-(datum.x2 - datum.x) * 189.9, (datum.y - datum.y2) * 1.82) * 180 / PI","as":"ang"}],"mark":{"type":"point","shape":"M0,0L-0.8,-2.2L0,-1.5L0.8,-2.2Z","filled":true,"size":196,"opacity":1},"encoding":{"x":{"field":"x2","type":"quantitative","title":null},"y":{"field":"y2","type":"quantitative","title":null},"angle":{"field":"ang","type":"quantitative","scale":null},"fill":{"field":"c","type":"nominal","scale":{"domain":["red","black"],"range":["#C80000","#000000"]},"legend":null}}},
  {"data":{"values":[{"t":"(j)"}]},"mark":{"type":"text","align":"left","baseline":"top","fontSize":21,"font":"Liberation Sans","color":"#000"},"encoding":{"x":{"datum":3.018},"y":{"datum":99},"text":{"field":"t"}}}
 ]}
],
"config":{
 "background":"#ffffff",
 "view":{"stroke":"#000","strokeWidth":1.5},
 "axis":{"domain":false,"grid":false,"tickColor":"#000","tickWidth":1.5,"tickSize":5,"labelFont":"Liberation Sans","labelFontSize":21,"labelColor":"#000","labelPadding":2,"labelOverlap":false,"labelBound":false,"titleColor":"#000"},
 "title":{"font":"Open Sans","fontSize":22,"fontWeight":"normal","color":"#000","offset":4}
}
}
